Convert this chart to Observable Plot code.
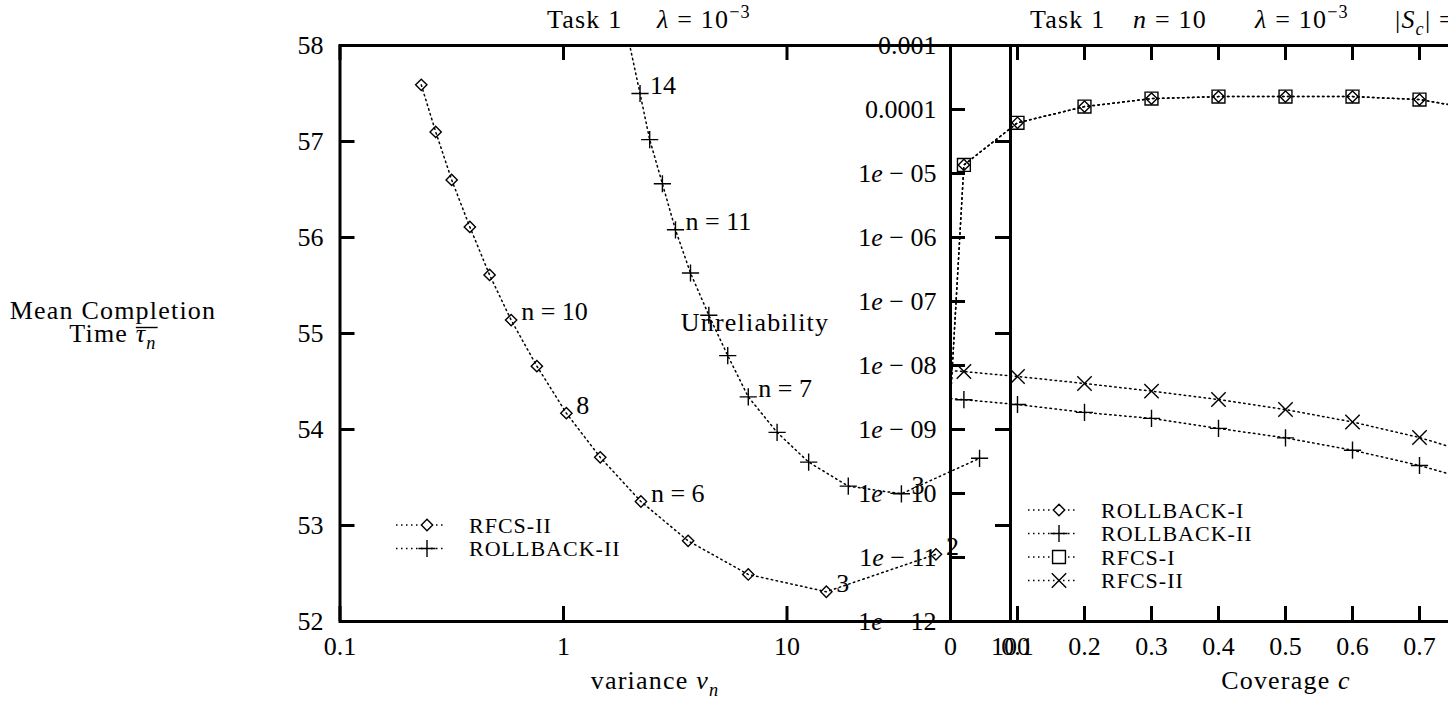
<!DOCTYPE html>
<html><head><meta charset="utf-8">
<script src="https://cdn.jsdelivr.net/npm/d3@7"></script>
<script src="https://cdn.jsdelivr.net/npm/@observablehq/plot@0.6"></script>
<style>
html,body{margin:0;padding:0;background:#fff;overflow:hidden}
#wrap{position:relative;width:1448px;height:702px;overflow:hidden;background:#fff}
#wrap svg{position:absolute;left:0;top:0}
#wrap text{font-family:"Liberation Serif","Times New Roman",serif}
</style></head><body><div id="wrap"></div>
<script>
// ---------- data: left chart (Task 1, lambda = 1e-3) ----------
const nValues = [15,14,13,12,11,10,9,8,7,6,5,4,3,2];
const rfcs2Variance = [0.231,0.268,0.316,0.381,0.467,0.583,0.760,1.03,1.46,2.22,3.61,6.71,15.0,46.4];
const rfcs2Time     = [57.59,57.10,56.60,56.11,55.61,55.14,54.66,54.17,53.71,53.25,52.84,52.49,52.31,52.70];
const rb2Variance   = [1.95,2.20,2.43,2.77,3.17,3.70,4.47,5.43,6.71,9.03,12.5,18.8,32.5,72.7];
const rb2Time       = [58.07,57.50,57.02,56.56,56.08,55.63,55.19,54.77,54.34,53.97,53.66,53.41,53.33,53.70];
const pointLabels = [
  {series:"RFCS-II", n:10, text:"n = 10"},
  {series:"RFCS-II", n:8, text:"8"},
  {series:"RFCS-II", n:6, text:"n = 6"},
  {series:"RFCS-II", n:3, text:"3"},
  {series:"RFCS-II", n:2, text:"2"},
  {series:"ROLLBACK-II", n:14, text:"14"},
  {series:"ROLLBACK-II", n:11, text:"n = 11"},
  {series:"ROLLBACK-II", n:7, text:"n = 7"},
  {series:"ROLLBACK-II", n:3, text:"3"}
];
const leftXTicks = [0.1, 1, 10, 100];
const leftXTickLabels = ["0.1", "1", "10", "100"];
const leftYTicks = [52, 53, 54, 55, 56, 57, 58];
const leftYTickLabels = ["52", "53", "54", "55", "56", "57", "58"];

// ---------- data: right chart (Task 1, n = 10, lambda = 1e-3) ----------
const coverage   = [0, 0.02, 0.1, 0.2, 0.3, 0.4, 0.5, 0.6, 0.7, 0.8];
const rollback1U = [3.0e-9, 1.36e-5, 6.2e-5, 1.11e-4, 1.48e-4, 1.59e-4, 1.59e-4, 1.59e-4, 1.43e-4, 9.5e-5];
const rollback2U = [3.05e-9, 2.92e-9, 2.46e-9, 1.85e-9, 1.49e-9, 1.04e-9, 7.4e-10, 4.75e-10, 2.74e-10, 1.38e-10];
const rfcs1U     = [3.0e-9, 1.36e-5, 6.2e-5, 1.11e-4, 1.48e-4, 1.59e-4, 1.59e-4, 1.59e-4, 1.43e-4, 9.5e-5];
const rfcs2U     = [8.35e-9, 8.05e-9, 6.73e-9, 5.24e-9, 3.98e-9, 2.94e-9, 2.05e-9, 1.31e-9, 7.5e-10, 3.6e-10];
const rightXTicks = [0, 0.1, 0.2, 0.3, 0.4, 0.5, 0.6, 0.7];
const rightXTickLabels = ["0", "0.1", "0.2", "0.3", "0.4", "0.5", "0.6", "0.7"];
const rightYTicks = [1e-12, 1e-11, 1e-10, 1e-9, 1e-8, 1e-7, 1e-6, 1e-5, 1e-4, 1e-3];
const rightYTickLabels = ["1e − 12", "1e − 11", "1e − 10", "1e − 09", "1e − 08", "1e − 07", "1e − 06", "1e − 05", "0.0001", "0.001"];

// ---------- layout / style ----------
const W = 1448, H = 702;
const FONT = '"Liberation Serif", "Times New Roman", serif';
const L = {x0: 339.5, x1: 1010, y0: 45, y1: 621};
const R = {x0: 950, x1: 1620};
const TICK = 15, BORDER = 3;
const DOT = {stroke: "black", strokeWidth: 1.5, strokeDasharray: "1.5,3.5"};
const SYM = {
  diamond: {symbol: "diamond2", r: 5.1},
  plus: {symbol: "plus", r: 5.6},
  square: {symbol: "square2", r: 8.2},
  times: {symbol: "times", r: 6.6}
};

// ---------- tables ----------
const rfcs2Rows = nValues.map((n, i) => ({series: "RFCS-II", n, v: rfcs2Variance[i], t: rfcs2Time[i]}));
const rb2Rows = nValues.map((n, i) => ({series: "ROLLBACK-II", n, v: rb2Variance[i], t: rb2Time[i]}));
const leftRows = rfcs2Rows.concat(rb2Rows);
const labelRows = pointLabels.map(l => ({...leftRows.find(d => d.series === l.series && d.n === l.n), text: l.text}));
const inLeft = d => d.t >= 52 && d.t <= 58 && d.v >= 0.1 && d.v <= 100;
const rightRows = (name, U) => coverage.map((c, i) => ({series: name, c, u: U[i]}));
const rb1R = rightRows("ROLLBACK-I", rollback1U), rb2R = rightRows("ROLLBACK-II", rollback2U);
const rf1R = rightRows("RFCS-I", rfcs1U), rf2R = rightRows("RFCS-II", rfcs2U);
const inRight = d => d.c > 0;

const lookup = (ticks, labels) => d => labels[ticks.indexOf(d)];

// ---------- left plot ----------
const lw = L.x1 - L.x0, lh = L.y1 - L.y0;
const leftPlot = Plot.plot({
  width: W, height: H,
  marginLeft: L.x0, marginRight: W - L.x1, marginTop: L.y0, marginBottom: H - L.y1,
  style: {background: "transparent", fontFamily: FONT, fontSize: "26px", color: "black"},
  x: {type: "log", domain: [0.1, 100]},
  y: {domain: [52, 58]},
  marks: [
    Plot.line(rfcs2Rows, {x: "v", y: "t", ...DOT, clip: true}),
    Plot.line(rb2Rows, {x: "v", y: "t", ...DOT, clip: true}),
    Plot.dot(rfcs2Rows.filter(inLeft), {x: "v", y: "t", ...SYM.diamond, fill: "none", stroke: "black", strokeWidth: 1.4}),
    Plot.dot(rb2Rows.filter(inLeft), {x: "v", y: "t", ...SYM.plus, fill: "none", stroke: "black", strokeWidth: 1.4}),
    Plot.text(labelRows, {x: "v", y: "t", text: "text", dx: 10, dy: -8, textAnchor: "start", fontSize: 26, fontFamily: FONT, fill: "black", ariaLabel: "point-labels"}),
    Plot.frame({stroke: "black", strokeWidth: BORDER}),
    Plot.tickY(leftYTicks, {y: d => d, insetRight: lw - TICK, strokeWidth: BORDER}),
    Plot.tickY(leftYTicks, {y: d => d, insetLeft: lw - TICK, strokeWidth: BORDER}),
    Plot.tickX(leftXTicks, {x: d => d, insetTop: lh - TICK, strokeWidth: BORDER}),
    Plot.tickX(leftXTicks, {x: d => d, insetBottom: lh - TICK, strokeWidth: BORDER}),
    Plot.axisY({ticks: leftYTicks, tickSize: 0, tickPadding: 16.5, tickFormat: lookup(leftYTicks, leftYTickLabels), label: null, fontSize: 26, fontFamily: FONT}),
    Plot.axisX({ticks: leftXTicks, tickSize: 0, tickPadding: 15, tickFormat: lookup(leftXTicks, leftXTickLabels), label: null, fontSize: 26, fontFamily: FONT})
  ]
});

// ---------- right plot ----------
const rw = W - R.x0;
const rightPlot = Plot.plot({
  width: W, height: H,
  marginLeft: R.x0, marginRight: 0, marginTop: L.y0, marginBottom: H - L.y1,
  style: {background: "transparent", fontFamily: FONT, fontSize: "26px", color: "black"},
  x: {domain: [0, 1], range: [R.x0, R.x1]},
  y: {type: "log", domain: [1e-12, 1e-3]},
  marks: [
    Plot.line(rb1R, {x: "c", y: "u", ...DOT, clip: true}),
    Plot.line(rf1R, {x: "c", y: "u", ...DOT, clip: true}),
    Plot.line(rb2R, {x: "c", y: "u", ...DOT, clip: true}),
    Plot.line(rf2R, {x: "c", y: "u", ...DOT, clip: true}),
    Plot.dot(rb1R.filter(inRight), {x: "c", y: "u", ...SYM.diamond, fill: "none", stroke: "black", strokeWidth: 1.4, clip: true}),
    Plot.dot(rf1R.filter(inRight), {x: "c", y: "u", ...SYM.square, fill: "none", stroke: "black", strokeWidth: 1.4, clip: true}),
    Plot.dot(rb2R.filter(inRight), {x: "c", y: "u", ...SYM.plus, fill: "none", stroke: "black", strokeWidth: 1.4, clip: true}),
    Plot.dot(rf2R.filter(inRight), {x: "c", y: "u", ...SYM.times, fill: "none", stroke: "black", strokeWidth: 1.4, clip: true}),
    Plot.ruleY([1e-12, 1e-3], {y: d => d, stroke: "black", strokeWidth: BORDER}),
    Plot.ruleX([0], {x: d => d, stroke: "black", strokeWidth: BORDER}),
    Plot.tickY(rightYTicks, {y: d => d, insetRight: rw - TICK, strokeWidth: BORDER}),
    Plot.tickX(rightXTicks, {x: d => d, insetTop: lh - TICK, strokeWidth: BORDER}),
    Plot.tickX(rightXTicks, {x: d => d, insetBottom: lh - TICK, strokeWidth: BORDER}),
    Plot.axisY({ticks: rightYTicks, tickSize: 0, tickPadding: 14, tickFormat: lookup(rightYTicks, rightYTickLabels), label: null, fontSize: 26, fontFamily: FONT}),
    Plot.axisX({ticks: rightXTicks, tickSize: 0, tickPadding: 15, tickFormat: lookup(rightXTicks, rightXTickLabels), label: null, fontSize: 26, fontFamily: FONT})
  ]
});

const wrap = document.getElementById("wrap");
wrap.appendChild(leftPlot);
wrap.appendChild(rightPlot);

// ---------- rich text helpers ----------
const NS = "http://www.w3.org/2000/svg";
function rebuild(el, parts) {
  const target = el.querySelector("tspan") || el;
  while (target.firstChild) target.removeChild(target.firstChild);
  for (const p of parts) {
    const ts = document.createElementNS(NS, "tspan");
    ts.textContent = p.t;
    if (p.i) ts.setAttribute("font-style", "italic");
    target.appendChild(ts);
  }
}
rightPlot.querySelectorAll("text").forEach(el => {
  const s = el.textContent;
  const m = s.match(/^1e( − \d+)$/);
  if (m) rebuild(el, [{t: "1"}, {t: "e", i: true}, {t: m[1]}]);
});
leftPlot.querySelectorAll('g[aria-label="point-labels"] text').forEach(el => {
  const s = el.textContent;
  el.setAttribute("letter-spacing", "1");
  if (s.startsWith("n = ")) rebuild(el, [{t: "n", i: true}, {t: s.slice(1)}]);
});

// ---------- overlay: titles, axis labels, legends ----------
const ov = d3.select(wrap).append("svg").attr("width", W).attr("height", H)
  .style("font-family", FONT).style("white-space", "pre");

function rich(x, y, parts, {anchor = "start", size = 26, ls = 1.2} = {}) {
  const t = ov.append("text").attr("x", x).attr("y", y).attr("text-anchor", anchor)
    .attr("font-size", size).attr("letter-spacing", ls).attr("fill", "black");
  let level = 0;
  for (const p of parts) {
    const s = t.append("tspan").text(p.t);
    if (p.i) s.attr("font-style", "italic");
    const target = p.sub ? size * 0.25 : p.sup ? -size * 0.4 : 0;
    if (target !== level) { s.attr("dy", target - level); level = target; }
    if (p.sub || p.sup) s.attr("font-size", size * 0.7);
  }
  return t;
}

// titles
rich(547, 28, [{t: "Task 1"}]);
rich(657, 28, [{t: "λ", i: true}, {t: " = 10"}, {t: "−3", sup: true}]);
rich(1030, 28, [{t: "Task 1"}]);
rich(1133, 28, [{t: "n", i: true}, {t: " = 10"}]);
rich(1255, 28, [{t: "λ", i: true}, {t: " = 10"}, {t: "−3", sup: true}]);
rich(1395, 28, [{t: "|"}, {t: "S", i: true}, {t: "c", i: true, sub: true}, {t: "| ="}]);

// axis labels
rich(113, 319, [{t: "Mean Completion"}], {anchor: "middle"});
const timeLabel = rich(113, 342, [{t: "Time "}, {t: "τ", i: true}, {t: "n", i: true, sub: true}], {anchor: "middle"});
{
  const node = timeLabel.node();
  const a = node.getStartPositionOfChar(5).x, b = node.getEndPositionOfChar(6).x;
  ov.append("line").attr("x1", a).attr("x2", b + 1).attr("y1", 327.5).attr("y2", 327.5)
    .attr("stroke", "black").attr("stroke-width", 1.4);
}
rich(755, 331, [{t: "Unreliability"}], {anchor: "middle"});
rich(655, 689, [{t: "variance "}, {t: "v", i: true}, {t: "n", i: true, sub: true}], {anchor: "middle"});
rich(1286, 689, [{t: "Coverage "}, {t: "c", i: true}], {anchor: "middle"});

// legends
function legend(px, y0, entries) {
  entries.forEach((e, k) => {
    const y = y0 + k * 23.5;
    ov.append("line").attr("x1", px - 31).attr("x2", px + 16).attr("y1", y).attr("y2", y)
      .attr("stroke", "black").attr("stroke-width", DOT.strokeWidth).attr("stroke-dasharray", DOT.strokeDasharray);
    ov.append("path").attr("d", d3.symbol(e.symbol, Math.PI * e.r * e.r)())
      .attr("transform", `translate(${px},${y})`).attr("fill", "white").attr("stroke", "black").attr("stroke-width", 1.4);
    ov.append("text").attr("x", px + 42).attr("y", y + 7.5).attr("font-size", 22).attr("letter-spacing", 1)
      .attr("fill", "black").text(e.label);
  });
}
legend(427, 525, [
  {label: "RFCS-II", symbol: d3.symbolDiamond2, r: SYM.diamond.r},
  {label: "ROLLBACK-II", symbol: d3.symbolPlus, r: SYM.plus.r}
]);
legend(1059, 510, [
  {label: "ROLLBACK-I", symbol: d3.symbolDiamond2, r: SYM.diamond.r},
  {label: "ROLLBACK-II", symbol: d3.symbolPlus, r: SYM.plus.r},
  {label: "RFCS-I", symbol: d3.symbolSquare2, r: SYM.square.r},
  {label: "RFCS-II", symbol: d3.symbolTimes, r: SYM.times.r}
]);
</script></body></html>
